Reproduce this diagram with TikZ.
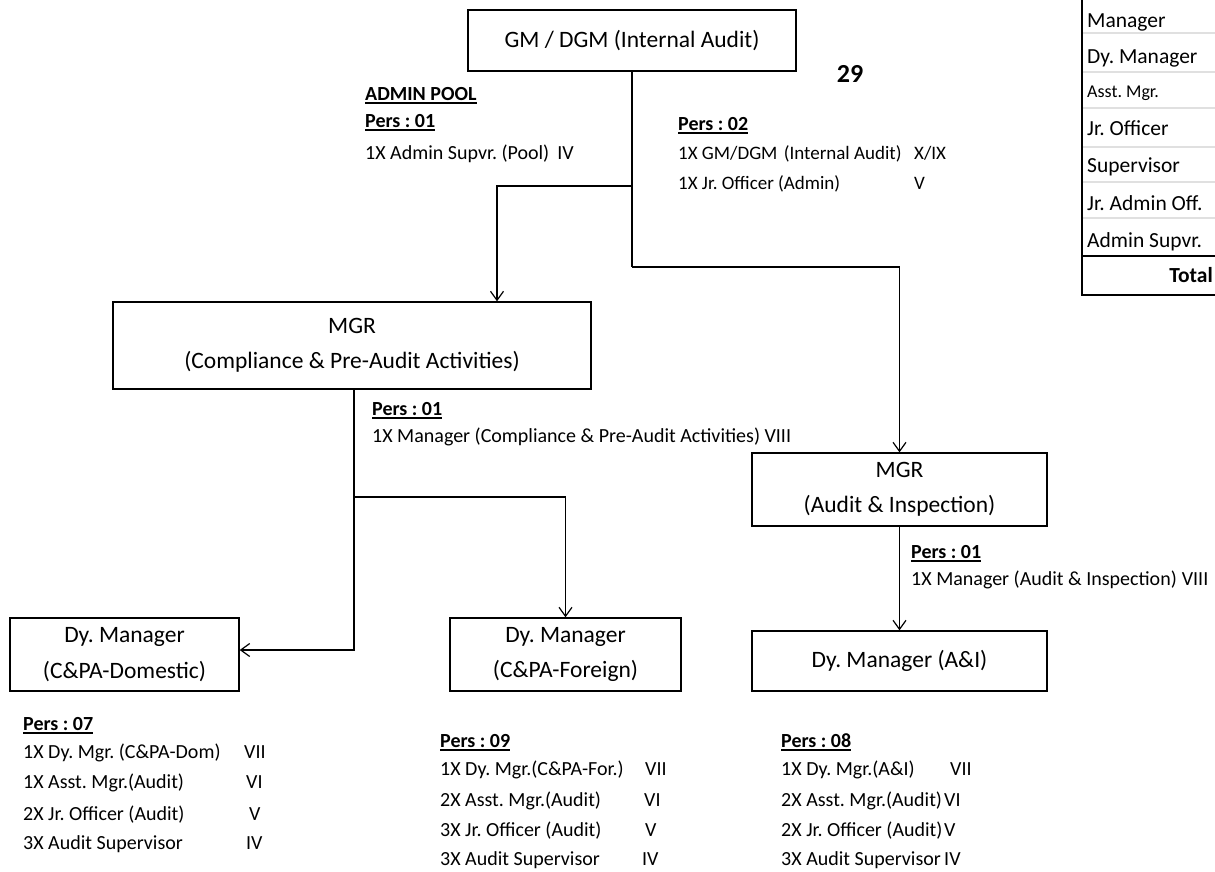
\documentclass[tikz,border=0pt]{standalone}
\usepackage{fontspec}
\setmainfont{Carlito}
\usetikzlibrary{arrows.meta}
\frenchspacing
\newcommand\ulbf[1]{\setbox0\hbox{\bfseries #1}\rlap{\rule[-3.5pt]{\wd0}{1.7pt}}\box0}
\begin{document}
\begin{tikzpicture}[x=1pt,y=-1pt,
  box/.style={draw, line width=1.4pt, inner sep=0pt, align=center,
    font=\fontsize{23.5}{35.5}\selectfont},
  conn/.style={line width=1.4pt},
  arr/.style={line width=1.4pt, -{Straight Barb[length=9pt,width=13pt,line width=1.2pt]}},
  txt/.style={anchor=base west, inner sep=0pt, font=\fontsize{20}{22}\selectfont},
  txs/.style={anchor=base west, inner sep=0pt, font=\fontsize{19}{21}\selectfont},
  tab/.style={anchor=base west, inner sep=0pt, font=\fontsize{21.5}{22}\selectfont},
  gline/.style={draw=black!12, line width=1.2pt}]
\useasboundingbox (0,0) rectangle (1215,871);
\fill[white] (0,0) rectangle (1215,871);

% boxes
\node[box, minimum width=328pt, minimum height=61pt] (gm) at (632,40.5) {GM / DGM (Internal Audit)};
\node[box, minimum width=478pt, minimum height=87pt] (mcp) at (352,345.5) {MGR\\(Compliance \& Pre-Audit Activities)};
\node[box, minimum width=295pt, minimum height=73pt] (mai) at (899.5,489.5) {MGR\\(Audit \& Inspection)};
\node[box, minimum width=229pt, minimum height=73pt] (dom) at (124.5,654.5) {Dy. Manager\\(C\&PA-Domestic)};
\node[box, minimum width=231pt, minimum height=73pt] (for) at (565.5,654.5) {Dy. Manager\\(C\&PA-Foreign)};
\node[box, minimum width=295pt, minimum height=60pt] (dai) at (899.5,661) {Dy. Manager (A\&I)};

% junctions
\coordinate (j1) at (632,186);
\coordinate (a1) at (497,186);
\coordinate (j2) at (632,267);
\coordinate (k0) at (354,389);
\coordinate (k1) at (354,497);
\coordinate (k2) at (354,650);

% connectors
\draw[conn] (gm.south) -- (j2);
\draw[arr] (j1) -- (a1) -- (a1 |- mcp.north);
\draw[arr] (j2) -| (mai.north);
\draw[arr] (k0) -- (k2) -- (k2 -| dom.east);
\draw[arr] (k1) -| (for.north);
\draw[arr] (mai.south) -- (dai.north);

% 29
\node[anchor=base, inner sep=0pt, font=\fontsize{26}{28}\selectfont\bfseries] (n29) at (850,82) {29};

% admin pool
\node[txt] (ap1) at (365,100) {\ulbf{ADMIN POOL}};
\node[txt] (ap2) at (365,127) {\ulbf{Pers : 01}};
\node[txt] (ap3) at (365,159) {1X Admin Supvr. (Pool)\hspace{8pt}IV};

% pers 02
\node[txt] (p21) at (678,130) {\ulbf{Pers : 02}};
\node[txs] (p22) at (678,159) {1X GM/DGM\hspace{2pt} (Internal Audit)};
\node[txs] (p22r) at (914,159) {X/IX};
\node[txs] (p23) at (678,189) {1X Jr. Officer (Admin)};
\node[txs] (p23r) at (914,189) {V};

% pers mcp
\node[txt] (pc1) at (372,415) {\ulbf{Pers : 01}};
\node[txt] (pc2) at (372,442) {1X Manager (Compliance \& Pre-Audit Activities) VIII};

% pers mai
\node[txt] (pa1) at (911,558) {\ulbf{Pers : 01}};
\node[txt] (pa2) at (911,585) {1X Manager (Audit \& Inspection)\hspace{5pt}VIII};

% bottom left
\node[txt] (d0) at (23,730) {\ulbf{Pers : 07}};
\node[txt] (d1) at (23,758) {1X Dy. Mgr. (C\&PA-Dom)};
\node[txt] (d2) at (23,788) {1X Asst. Mgr.(Audit)};
\node[txt] (d3) at (23,820) {2X Jr. Officer (Audit)};
\node[txt] (d4) at (23,849) {3X Audit Supervisor};
\node[txt] (d1r) at (244,758) {VII};
\node[txt] (d2r) at (246,788) {VI};
\node[txt] (d3r) at (249,820) {V};
\node[txt] (d4r) at (246,849) {IV};

% bottom middle
\node[txt] (f0) at (440,747) {\ulbf{Pers : 09}};
\node[txt] (f1) at (440,775) {1X Dy. Mgr.(C\&PA-For.)};
\node[txt] (f2) at (440,806) {2X Asst. Mgr.(Audit)};
\node[txt] (f3) at (440,836) {3X Jr. Officer (Audit)};
\node[txt] (f4) at (440,865) {3X Audit Supervisor};
\node[txt] (f1r) at (645,775) {VII};
\node[txt] (f2r) at (644,806) {VI};
\node[txt] (f3r) at (645,836) {V};
\node[txt] (f4r) at (642,865) {IV};

% bottom right
\node[txt] (i0) at (781,747) {\ulbf{Pers : 08}};
\node[txt] (i1) at (781,775) {1X Dy. Mgr.(A\&I)};
\node[txt] (i2) at (781,806) {2X Asst. Mgr.(Audit)};
\node[txt] (i3) at (781,836) {2X Jr. Officer (Audit)};
\node[txt] (i4) at (781,865) {3X Audit Supervisor};
\node[txt] (i1r) at (950,775) {VII};
\node[txt] (i2r) at (944,806) {VI};
\node[txt] (i3r) at (944,836) {V};
\node[txt] (i4r) at (944,865) {IV};

% table
\foreach \yy in {33,72,108,147,182,218} \draw[gline] (1083,\yy) -- (1215,\yy);
\draw[line width=1.6pt] (1082,256) -- (1215,256);
\draw[line width=2pt] (1082,0) -- (1082,295);
\draw[line width=2.6pt] (1081,295) -- (1215,295);
\node[tab] (r1) at (1087,27) {Manager};
\node[tab] (r2) at (1087,63) {Dy. Manager};
\node[tab, font=\fontsize{18}{19}\selectfont] (r3) at (1087,97) {Asst. Mgr.};
\node[tab] (r4) at (1087,135) {Jr. Officer};
\node[tab] (r5) at (1087,172) {Supervisor};
\node[tab] (r6) at (1087,210) {Jr. Admin Off.};
\node[tab] (r7) at (1087,247) {Admin Supvr.};
\node[anchor=base east, inner sep=0pt, font=\fontsize{21.5}{22}\selectfont\bfseries] (r8) at (1213,282) {Total};
\end{tikzpicture}
\end{document}
